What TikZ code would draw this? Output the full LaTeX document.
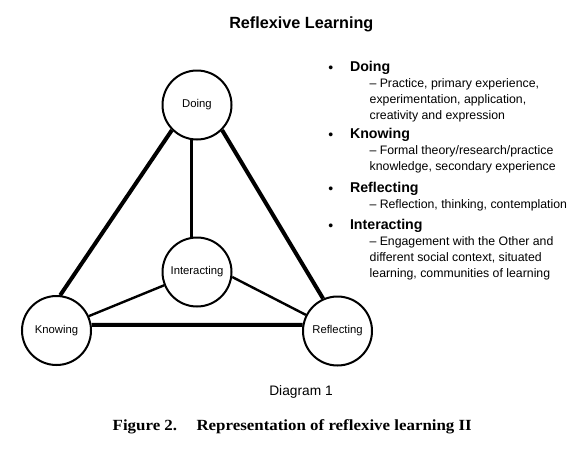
\documentclass[tikz,border=0pt]{standalone}
\usepackage{fontspec}
\setmainfont{Liberation Sans}
\newfontfamily\capfont[FakeStretch=1.09]{Liberation Serif}
\begin{document}
\begin{tikzpicture}[x=1pt,y=-1pt,
  circ/.style={circle,draw,line width=2pt,minimum size=69pt,inner sep=0pt,font=\fontsize{11.3}{13}\selectfont},
  outerline/.style={line width=4pt},
  innerline/.style={line width=2.4pt},
  head/.style={anchor=base west,inner sep=0pt,font=\fontsize{14.2}{16}\selectfont\bfseries},
  sub/.style={anchor=base west,inner sep=0pt,font=\fontsize{12.3}{14}\selectfont},
  bul/.style={anchor=base,inner sep=0pt,font=\fontsize{14}{16}\selectfont},
  capt/.style={inner sep=0pt,font=\capfont\fontsize{15.5}{18}\selectfont\bfseries}]
\fill[white] (0,0) rectangle (585,453);
\useasboundingbox (0,0) rectangle (585,453);

% title
\node[anchor=base,inner sep=0pt,font=\fontsize{16.2}{18}\selectfont\bfseries] (title) at (301.3,28.5) {Reflexive Learning};

% circles
\node[circ] (doing) at (197,105) {Doing};
\node[circ] (inter) at (197,272) {Interacting};
\node[circ] (know) at (56.5,330.5) {Knowing};
\node[circ] (refl) at (337.5,331) {Reflecting};

% connectors
\draw[outerline] (doing.225) -- (know.84);
\draw[outerline] (doing.315) -- (refl.114);
\draw[outerline] (know.9) -- (refl.170);
\draw[innerline] (doing.261) -- (inter.99);
\draw[innerline] (inter.202) -- (know.24);
\draw[innerline] (inter.352) -- (refl.153);

% list
\node[bul] (b1) at (330.7,72) {\textbullet};
\node[head] (h1) at (349.8,71) {Doing};
\node[sub] (s11) at (369.3,87) {– Practice, primary experience,};
\node[sub] (s12) at (369.5,103) {experimentation, application,};
\node[sub] (s13) at (369.5,119) {creativity and expression};

\node[bul] (b2) at (330.7,139) {\textbullet};
\node[head] (h2) at (349.8,138) {Knowing};
\node[sub] (s21) at (369.3,154) {– Formal theory/research/practice};
\node[sub] (s22) at (369.5,170) {knowledge, secondary experience};

\node[bul] (b3) at (330.7,193) {\textbullet};
\node[head] (h3) at (349.8,192) {Reflecting};
\node[sub] (s31) at (369.3,208) {– Reflection, thinking, contemplation};

\node[bul] (b4) at (330.7,230) {\textbullet};
\node[head] (h4) at (349.8,229) {Interacting};
\node[sub] (s41) at (369.3,245) {– Engagement with the Other and};
\node[sub] (s42) at (369.5,261) {different social context, situated};
\node[sub] (s43) at (369.5,277) {learning, communities of learning};

% captions
\node[anchor=base,inner sep=0pt,font=\fontsize{13.75}{16}\selectfont] (diag) at (301,395.5) {Diagram 1};
\node[capt,anchor=base west] (fig) at (112.5,430) {Figure 2.};
\node[capt,anchor=base east] (figtext) at (472,430) {Representation of reflexive learning II};
\end{tikzpicture}
\end{document}
